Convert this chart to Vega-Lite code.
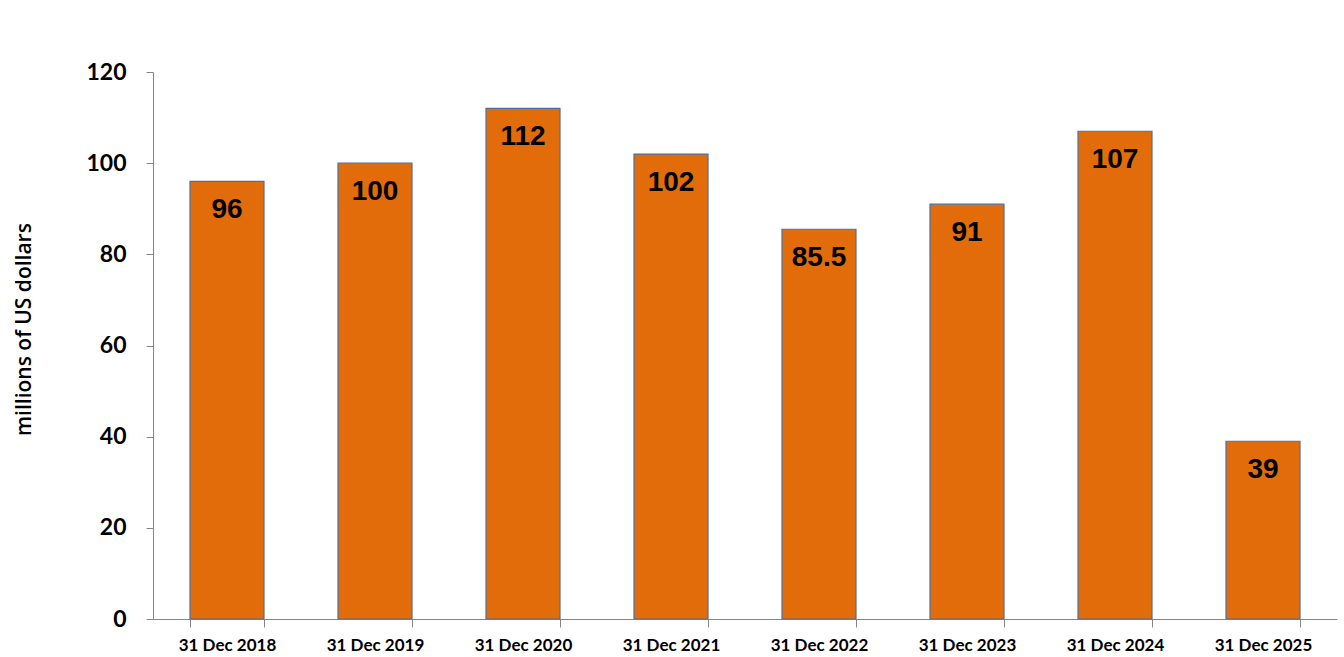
{
  "$schema": "https://vega.github.io/schema/vega-lite/v6.json",
  "autosize": "none",
  "width": 1184,
  "height": 547,
  "padding": {"left": 153, "top": 72, "right": 7, "bottom": 38},
  "background": "white",
  "data": {"values": [
    {"date": "31 Dec 2018", "value": 96, "label": "96"},
    {"date": "31 Dec 2019", "value": 100, "label": "100"},
    {"date": "31 Dec 2020", "value": 112, "label": "112"},
    {"date": "31 Dec 2021", "value": 102, "label": "102"},
    {"date": "31 Dec 2022", "value": 85.5, "label": "85.5"},
    {"date": "31 Dec 2023", "value": 91, "label": "91"},
    {"date": "31 Dec 2024", "value": 107, "label": "107"},
    {"date": "31 Dec 2025", "value": 39, "label": "39"}
  ]},
  "config": {"view": {"stroke": null}},
  "encoding": {
    "x": {"field": "date", "type": "nominal", "sort": null,
      "scale": {"paddingInner": 0.5, "paddingOuter": 0.25},
      "axis": {"title": null, "labelAngle": 0, "tickBand": "extent", "tickSize": 8,
        "domainColor": "#868686", "tickColor": "#868686", "labelPadding": 10,
        "labelFont": "Lato", "labelFontWeight": "bold", "labelFontSize": 17, "labelColor": "#000000"}},
    "y": {"field": "value", "type": "quantitative",
      "scale": {"domain": [0, 120], "nice": false},
      "axis": {"values": [0, 20, 40, 60, 80, 100, 120], "grid": false, "tickSize": 7,
        "domainColor": "#868686", "tickColor": "#868686", "labelPadding": 20,
        "labelFont": "Lato", "labelFontWeight": "bold", "labelFontSize": 23, "labelColor": "#000000",
        "title": "millions of US dollars", "titleFont": "Open Sans", "titleFontSize": 21, "titleFontWeight": 600,
        "titleColor": "#000000", "titleX": -123, "titleY": 257, "titleAngle": -90, "titleBaseline": "alphabetic"}}
  },
  "layer": [
    {"mark": {"type": "bar", "color": "#E36C0A", "stroke": "#4F6F9A", "strokeWidth": 1.2}},
    {"mark": {"type": "text", "baseline": "middle", "dy": 29, "font": "Liberation Sans", "fontWeight": "bold", "fontSize": 28, "color": "#000000"},
      "encoding": {"text": {"field": "label"}}}
  ]
}
